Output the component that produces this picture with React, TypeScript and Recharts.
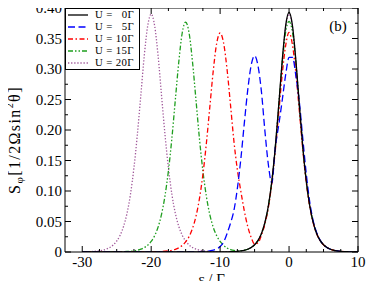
import React from 'react';
import { LineChart, Line, XAxis, YAxis, ReferenceLine, Legend } from 'recharts';

const eps = [
  -30, -29.5, -29, -28.5, -28, -27.5, -27, -26.5, -26, -25.5,
  -25, -24.5, -24, -23.5, -23, -22.5, -22, -21.5, -21, -20.5,
  -20, -19.5, -19, -18.5, -18, -17.5, -17, -16.5, -16, -15.5,
  -15, -14.5, -14, -13.5, -13, -12.5, -12, -11.5, -11, -10.5,
  -10, -9.5, -9, -8.5, -8, -7.5, -7, -6.5, -6, -5.5,
  -5, -4.5, -4, -3.5, -3, -2.5, -2, -1.5, -1, -0.5,
  0, 0.5, 1, 1.5, 2, 2.5, 3, 3.5, 4, 4.5,
  5, 5.5, 6, 6.5, 7, 7.5, 8, 8.5, 9, 9.5,
  10,
];

const sU0 = [
  0, 0, 0, 0, 0, 0, 0, 0, 0, 0,
  0, 0, 0, 0, 0, 0, 0, 0, 0, 0,
  0, 0, 0, 0, 0, 0, 0, 0, 0, 0,
  0, 0, 0, 0, 0, 0, 0, 0, 0, 0,
  0.0001, 0.0001, 0.0002, 0.0004, 0.0006, 0.001, 0.0017, 0.0028, 0.0045, 0.0073,
  0.0118, 0.019, 0.0305, 0.0485, 0.0758, 0.116, 0.1713, 0.24, 0.3125, 0.3705,
  0.393, 0.3705, 0.3125, 0.24, 0.1713, 0.116, 0.0758, 0.0485, 0.0305, 0.019,
  0.0118, 0.0073, 0.0045, 0.0028, 0.0017, 0.001, 0.0006, 0.0004, 0.0002, 0.0001,
  0.0001,
];

const sU5 = [
  0, 0, 0, 0, 0, 0, 0, 0, 0, 0,
  0, 0, 0, 0, 0, 0, 0, 0, 0, 0,
  0, 0, 0, 0, 0, 0, 0, 0, 0, 0,
  0, 0, 0.0001, 0.0002, 0.0004, 0.0007, 0.0012, 0.002, 0.003, 0.005,
  0.009, 0.016, 0.03, 0.047, 0.068, 0.104, 0.152, 0.21, 0.265, 0.306,
  0.322, 0.305, 0.262, 0.198, 0.143, 0.113, 0.171, 0.208, 0.248, 0.29,
  0.319, 0.319, 0.288, 0.245, 0.185, 0.128, 0.082, 0.051, 0.032, 0.0195,
  0.012, 0.0074, 0.0045, 0.0028, 0.0017, 0.001, 0.0006, 0.0004, 0.0002, 0.0001,
  0.0001,
];

const sU10 = [
  0, 0, 0, 0, 0, 0, 0, 0, 0, 0,
  0, 0, 0, 0, 0, 0, 0, 0, 0, 0,
  0.0002, 0.0003, 0.0005, 0.0008, 0.0012, 0.0018, 0.0028, 0.0044, 0.0069, 0.0107,
  0.0165, 0.0254, 0.0388, 0.0586, 0.0874, 0.1267, 0.1775, 0.237, 0.2965, 0.342,
  0.359, 0.343, 0.3, 0.242, 0.182, 0.135, 0.1, 0.068, 0.042, 0.024,
  0.013, 0.015, 0.028, 0.046, 0.073, 0.113, 0.166, 0.228, 0.29, 0.338,
  0.36, 0.339, 0.292, 0.23, 0.167, 0.114, 0.075, 0.048, 0.0302, 0.0188,
  0.0117, 0.0073, 0.0045, 0.0028, 0.0017, 0.001, 0.0006, 0.0004, 0.0002, 0.0001,
  0.0001,
];

const sU15 = [
  0, 0, 0, 0, 0, 0, 0, 0, 0, 0,
  0.0002, 0.0003, 0.0005, 0.0008, 0.0012, 0.0019, 0.003, 0.0046, 0.0072, 0.0112,
  0.0173, 0.0267, 0.0407, 0.0616, 0.0918, 0.133, 0.186, 0.249, 0.311, 0.359,
  0.377, 0.359, 0.311, 0.249, 0.186, 0.133, 0.0918, 0.0616, 0.0407, 0.0267,
  0.0173, 0.011, 0.0065, 0.004, 0.0025, 0.002, 0.0022, 0.003, 0.0045, 0.0073,
  0.0116, 0.0185, 0.0298, 0.0475, 0.0745, 0.115, 0.17, 0.239, 0.308, 0.36,
  0.378, 0.36, 0.309, 0.239, 0.171, 0.116, 0.0758, 0.0485, 0.0305, 0.019,
  0.0118, 0.0073, 0.0045, 0.0028, 0.0017, 0.001, 0.0006, 0.0004, 0.0002, 0.0001,
  0.0001,
];

const sU20 = [
  0.0002, 0.0003, 0.0005, 0.0008, 0.0013, 0.002, 0.0031, 0.0048, 0.0074, 0.0116,
  0.0179, 0.0276, 0.0421, 0.0637, 0.0949, 0.138, 0.193, 0.257, 0.322, 0.371,
  0.39, 0.371, 0.322, 0.257, 0.193, 0.138, 0.0949, 0.0637, 0.0421, 0.0276,
  0.0179, 0.0116, 0.0074, 0.0048, 0.0031, 0.002, 0.0013, 0.0008, 0.0005, 0.0003,
  0.0003, 0.0003, 0.0004, 0.0005, 0.0007, 0.001, 0.0017, 0.0028, 0.0045, 0.0073,
  0.0118, 0.019, 0.0305, 0.0485, 0.0758, 0.116, 0.1713, 0.2395, 0.311, 0.368,
  0.39, 0.368, 0.311, 0.2395, 0.1713, 0.116, 0.0758, 0.0485, 0.0305, 0.019,
  0.0118, 0.0073, 0.0045, 0.0028, 0.0017, 0.001, 0.0006, 0.0004, 0.0002, 0.0001,
  0.0001,
];

const seriesLabels = ['U =   0Γ', 'U =   5Γ', 'U = 10Γ', 'U = 15Γ', 'U = 20Γ'];
const panelLabel = '(b)';
const xTicks = [-30, -27.5, -25, -22.5, -20, -17.5, -15, -12.5, -10, -7.5, -5, -2.5, 0, 2.5, 5, 7.5, 10];
const xMajor = [-30, -20, -10, 0, 10];
const yTicks = [0, 0.025, 0.05, 0.075, 0.1, 0.125, 0.15, 0.175, 0.2, 0.225, 0.25, 0.275, 0.3, 0.325, 0.35, 0.375, 0.4];
const yMajor = [0, 0.05, 0.1, 0.15, 0.2, 0.25, 0.3, 0.35, 0.4];

const table = eps.map((e, i) => ({
  eps: e,
  u0: sU0[i],
  u5: sU5[i],
  u10: sU10[i],
  u15: sU15[i],
  u20: sU20[i],
}));

const FONT = '"Liberation Serif", "Times New Roman", Times, "DejaVu Serif", serif';
const W = 374;
const H = 289;
const M = { top: 8, right: 16, bottom: 7, left: 15 };
const Y_AXIS_W = 50;
const X_AXIS_H = 30;
const PLOT_W = W - M.left - M.right - Y_AXIS_W;
const PLOT_H = H - M.top - M.bottom - X_AXIS_H;
const PLOT_LEFT = M.left + Y_AXIS_W;
const PLOT_BOTTOM = M.top + PLOT_H;

const SERIES = [
  { key: 'u0', color: '#000000', dash: undefined as string | undefined },
  { key: 'u5', color: '#0000ff', dash: '7 3.5' },
  { key: 'u10', color: '#ff0000', dash: '5 2.5 1.5 2.5' },
  { key: 'u15', color: '#1e9e1e', dash: '5 2 1.5 2 1.5 2' },
  { key: 'u20', color: '#a0589a', dash: '1.3 1.8' },
];

const XTick = (props: any) => {
  const { x, y, payload } = props;
  const v = payload.value;
  const major = xMajor.includes(v);
  const len = major ? 6 : 3;
  return (
    <g>
      <line x1={x} x2={x} y1={y} y2={y - len} stroke="#000" strokeWidth={1} />
      <line x1={x} x2={x} y1={y - PLOT_H} y2={y - PLOT_H + len} stroke="#000" strokeWidth={1} />
      {major && (
        <text x={x} y={y + 14.5} textAnchor="middle" fontFamily={FONT} fontSize={15} fill="#000">
          {String(v)}
        </text>
      )}
    </g>
  );
};

const YTick = (props: any) => {
  const { x, y, payload } = props;
  const v = payload.value;
  const major = yMajor.includes(v);
  const len = major ? 6 : 3;
  return (
    <g>
      <line x1={x} x2={x + len} y1={y} y2={y} stroke="#000" strokeWidth={1} />
      <line x1={x + PLOT_W} x2={x + PLOT_W - len} y1={y} y2={y} stroke="#000" strokeWidth={1} />
      {major && (
        <text x={x - 3} y={y + 5} textAnchor="end" fontFamily={FONT} fontSize={15} fill="#000">
          {v === 0 ? '0' : v.toFixed(2)}
        </text>
      )}
    </g>
  );
};

const XLabel = () => (
  <text x={PLOT_LEFT + PLOT_W / 2} y={PLOT_BOTTOM + 32} textAnchor="middle" fontFamily={FONT} fontSize={15} fill="#000">
    ε / Γ
  </text>
);

const YLabel = () => {
  const cx = 19.5;
  const cy = M.top + PLOT_H / 2 + 10;
  return (
    <text
      x={cx}
      y={cy}
      transform={`rotate(-90 ${cx} ${cy})`}
      textAnchor="middle"
      fontFamily={FONT}
      fontSize={16}
      letterSpacing={1.4}
      fill="#000"
    >
      <tspan>S</tspan>
      <tspan dy={3} fontSize={11}>φ</tspan>
      <tspan dy={-3}>[1/2Ωsin</tspan>
      <tspan dy={-7} fontSize={10}>2</tspan>
      <tspan dy={7}>θ]</tspan>
    </text>
  );
};

const PanelLabel = () => (
  <text x={PLOT_LEFT + PLOT_W - 28.7} y={M.top + 23} fontFamily={FONT} fontSize={15} fill="#000">
    {panelLabel}
  </text>
);

const LegendBox = () => (
  <div
    style={{
      width: 75,
      height: 62,
      border: '1px solid #000',
      background: '#fff',
      boxSizing: 'border-box',
      fontFamily: FONT,
      fontSize: 10.8,
      letterSpacing: 0.35,
      overflow: 'hidden',
    }}
  >
    {SERIES.map((s, i) => (
      <div key={s.key} style={{ height: 11.9, position: 'relative' }}>
        <svg width={26} height={12} style={{ position: 'absolute', left: 0, top: 0 }}>
          <line x1={2} x2={22} y1={6} y2={6} stroke={s.color} strokeWidth={1.3} strokeDasharray={s.dash} />
        </svg>
        <span
          style={{
            position: 'absolute',
            left: 29,
            top: 0,
            height: 11.9,
            lineHeight: '11.9px',
            display: 'inline-block',
            whiteSpace: 'pre',
            color: '#000',
          }}
        >
          {seriesLabels[i]}
        </span>
      </div>
    ))}
  </div>
);

export default function App() {
  const drawOrder = [...SERIES].reverse();
  return (
    <div style={{ margin: -8, width: W, height: H, background: '#fff', position: 'relative' }}>
      <LineChart width={W} height={H} data={table} margin={M}>
        <XAxis
          dataKey="eps"
          type="number"
          domain={[-32.5, 10]}
          allowDataOverflow
          ticks={xTicks}
          interval={0}
          tickSize={0}
          tickMargin={0}
          tick={<XTick />}
          height={X_AXIS_H}
          axisLine={{ stroke: '#000', strokeWidth: 1 }}
          tickLine={false}
          label={<XLabel />}
        />
        <YAxis
          type="number"
          domain={[0, 0.4]}
          allowDataOverflow
          ticks={yTicks}
          interval={0}
          tickSize={0}
          tickMargin={0}
          tick={<YTick />}
          width={Y_AXIS_W}
          axisLine={{ stroke: '#000', strokeWidth: 1 }}
          tickLine={false}
          label={<YLabel />}
        />
        <ReferenceLine y={0.4} stroke="#000" strokeWidth={1} label={<PanelLabel />} />
        <ReferenceLine x={10} stroke="#000" strokeWidth={1} />
        {drawOrder.map((s) => (
          <Line
            key={s.key}
            dataKey={s.key}
            type="monotone"
            stroke={s.color}
            strokeWidth={1.3}
            strokeDasharray={s.dash}
            dot={false}
            activeDot={false}
            isAnimationActive={false}
          />
        ))}
        <Legend
          layout="horizontal"
          verticalAlign="middle"
          align="center"
          content={() => <LegendBox />}
          wrapperStyle={{ left: 65, top: 8, width: 75, height: 62 }}
        />
      </LineChart>
    </div>
  );
}
